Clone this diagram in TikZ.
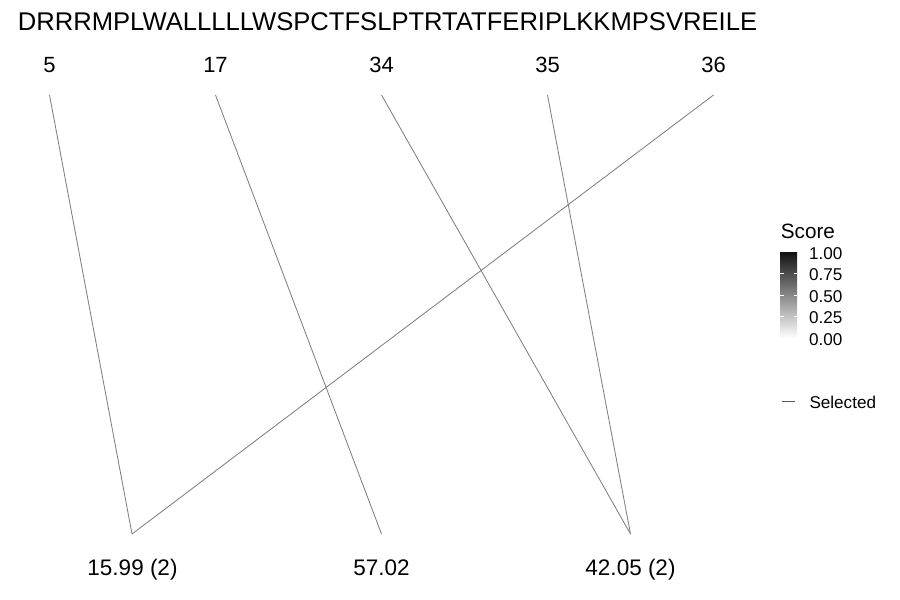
\documentclass[tikz,border=0pt]{standalone}
\usepackage{fontspec}
\setmainfont{Liberation Sans}
\usetikzlibrary{positioning}

\begin{document}
\begin{tikzpicture}[x=1pt, y=-1pt,
	seqlabel/.style  = {inner sep=0pt, anchor=base, font=\fontsize{25.6}{30}\selectfont},
	poslabel/.style  = {inner sep=0pt, anchor=base, font=\fontsize{22}{26}\selectfont},
	masslabel/.style = {inner sep=0pt, anchor=base, font=\fontsize{22.5}{27}\selectfont},
	link/.style      = {draw=black!50, line width=0.85pt},
	legtitle/.style  = {inner sep=0pt, anchor=base west, font=\fontsize{20.7}{24}\selectfont},
	legtext/.style   = {inner sep=0pt, anchor=base west, font=\fontsize{17.1}{20}\selectfont}]
	
	\useasboundingbox (0,0) rectangle (900,600);
	
	\node[seqlabel] (seq) at (387.5,30) {DRRRMPLWALLLLLWSPCTFSLPTRTATFERIPLKKMPSVREILE};
	
	\foreach \pos [count=\i from 0] in {5,17,34,35,36} {
		\node[poslabel] (p\pos) at (49.5+166*\i,72) {\pos};
		\coordinate (t\pos) at (49.5+166*\i,95);
	}
	
	\node[masslabel] (m1) at (132.5,575) {15.99 (2)};
	\node[masslabel] (m2) at (381.5,575) {57.02};
	\node[masslabel] (m3) at (630.5,575) {42.05 (2)};
	\coordinate (b1) at (132,534);
	\coordinate (b2) at (381.5,534);
	\coordinate (b3) at (630.5,534);
	
	\foreach \a/\b in {5/1,17/2,34/3,35/3,36/1}
	\draw[link] (t\a) -- (b\b);
	
	% legend
	\node[legtitle] (score) at (780.7,238.3) {Score};
	\shade[top color=black!93, bottom color=white] (780,252) rectangle (797,338);
	\foreach \y in {273.5,295,316.5} {
		\draw[white, line width=0.6pt] (780,\y) -- ++(3.5,0);
		\draw[white, line width=0.6pt] (797,\y) -- ++(-3.5,0);
	}
	\foreach \v [count=\i from 0] in {1.00,0.75,0.50,0.25,0.00}
	\node[legtext] (s\i) at (809,259+21.5*\i) {\v};
	
	\node[legtext] (sel) at (809.3,408) {Selected};
	\draw[black!65, line width=0.9pt] ([xshift=-27.5pt]sel.west) -- ([xshift=-14pt]sel.west);
	
\end{tikzpicture}
\end{document}
